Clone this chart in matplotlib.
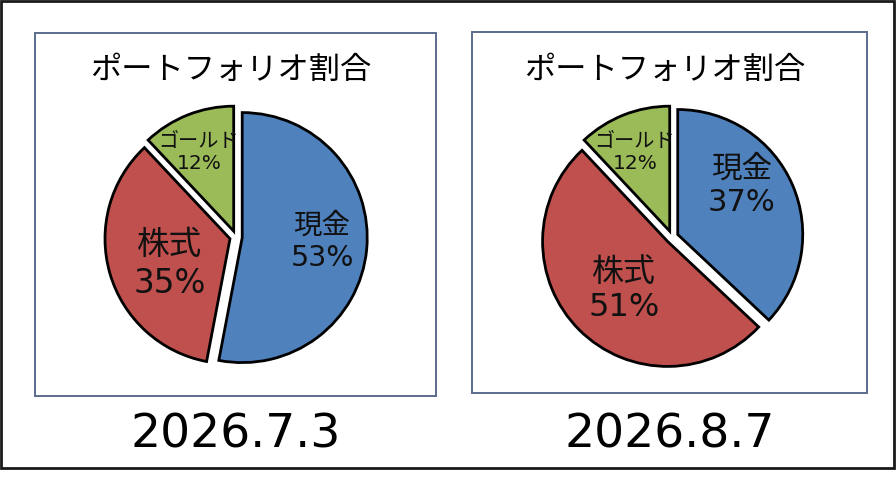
import numpy as np
import matplotlib
matplotlib.use("Agg")
from matplotlib import pyplot as plt
from matplotlib.patches import Rectangle

# wide latin digits first, CJK glyphs fall through to Noto
plt.rcParams['font.family'] = ['DejaVu Sans', 'Noto Sans CJK JP']

# data
title = 'ポートフォリオ割合'
assets = ['現金', '株式', 'ゴールド']
share_jul = [53, 35, 12]
share_aug = [37, 51, 12]
dates = ['2026.7.3', '2026.8.7']
colors = ['#4F81BD', '#C0504D', '#9BBB59']

W, H = 896, 480
fig = plt.figure(figsize=(W/100, H/100), dpi=100)

def fx(px):
	return px/W

def fy(py):
	return 1 - py/H

def box(x0, y0, x1, y1, color, lw):
	fig.add_artist(Rectangle((fx(x0), fy(y1)), (x1-x0)/W, (y1-y0)/H,
		transform=fig.transFigure, fill=False, edgecolor=color, linewidth=lw))

# outer frame
box(1, 1, 894, 468, '#1a1a1a', 2)

# layout per chart: panel box, pie center, label radius, angle nudge, label size
panels = [(35, 33, 436, 396), (472, 32, 867, 393)]
pie_cx = [236, 672]
pie_cy = 237
pie_r = 125
label_r = [0.69, 0.57, 0.74]
nudges = [[2, 6, 2], [13, 3, 2]]
label_fs = [[20.5, 23.5, 14.5], [22, 23, 14.5]]

for i, shares in enumerate([share_jul, share_aug]):
	x0, y0, x1, y1 = panels[i]
	box(x0, y0, x1, y1, '#5B6B8C', 1.4)
	mid = (x0 + x1)/2
	fig.text(fx(mid - 5), fy(70), title, fontsize=22.5, ha='center', va='center')
	fig.text(fx(mid), fy(435), dates[i], fontsize=34, ha='center', va='center')

	half = 140
	ax = fig.add_axes([fx(pie_cx[i] - half), fy(pie_cy + half), 2*half/W, 2*half/H])
	wedges, _ = ax.pie(shares, colors=colors, startangle=90, counterclock=False,
		explode=[0.05]*len(shares), radius=1,
		wedgeprops=dict(edgecolor='black', linewidth=2))
	lim = half/pie_r
	ax.set_xlim(-lim, lim)
	ax.set_ylim(-lim, lim)
	ax.axis('off')

	for j, w in enumerate(wedges):
		ang = np.deg2rad((w.theta1 + w.theta2)/2 + nudges[i][j])
		ax.text(label_r[j]*np.cos(ang), label_r[j]*np.sin(ang),
			'%s\n%d%%' % (assets[j], shares[j]),
			ha='center', va='center', multialignment='center',
			fontsize=label_fs[i][j], linespacing=1.2, color='#111111')

fig.savefig('out.png', dpi=100, facecolor='white')
